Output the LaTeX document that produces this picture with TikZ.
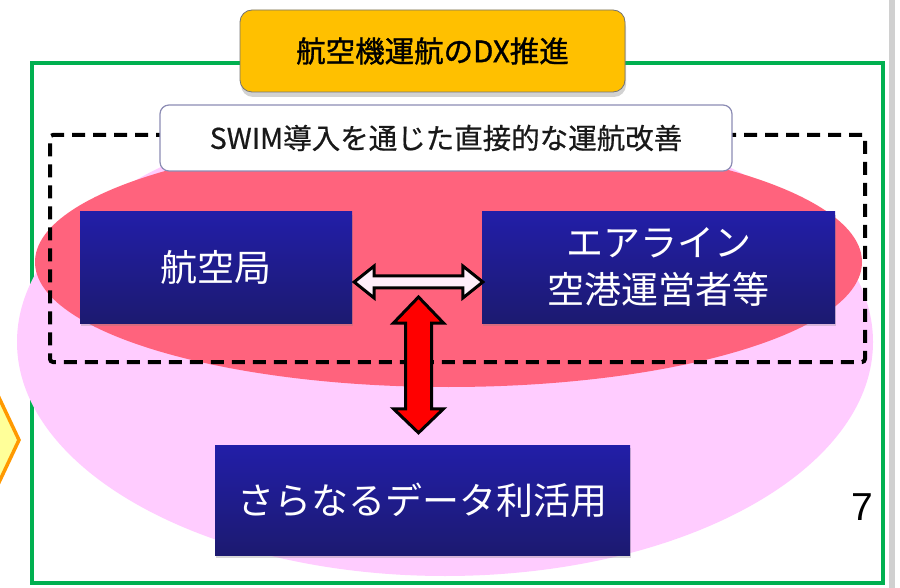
\documentclass[tikz,border=0pt]{standalone}
\usepackage{fontspec}
\setmainfont{Liberation Sans}
\newfontfamily\jp{Noto Sans CJK JP}
\newfontfamily\jpb{Noto Sans CJK JP}[FakeBold=1.2]
\newfontfamily\jpm{Noto Sans CJK JP}[FakeBold=0.6]
\usetikzlibrary{shadows,calc}
\definecolor{frameGreen}{RGB}{0,176,80}
\definecolor{pinkFill}{RGB}{255,204,255}
\definecolor{redFill}{RGB}{255,99,125}
\definecolor{titleOrange}{RGB}{255,192,0}
\definecolor{navyTop}{RGB}{34,30,168}
\definecolor{navyBot}{RGB}{28,26,112}
\definecolor{swimBorder}{RGB}{140,140,180}
\definecolor{hexOrange}{RGB}{255,153,0}
\definecolor{hexYellow}{RGB}{255,255,153}
\definecolor{edgeGray}{RGB}{208,208,208}
\definecolor{arrowWhite}{RGB}{255,238,250}
\begin{document}
\begin{tikzpicture}[x=1pt,y=-1pt,
  frame/.style={draw=frameGreen,line width=3.5pt,minimum width=851pt,minimum height=520pt,inner sep=0pt},
  titlebox/.style={draw=black!55,line width=0.8pt,fill=titleOrange,rounded corners=12pt,
    minimum width=385pt,minimum height=82pt,inner sep=0pt,
    font=\jpb\fontsize{29.5}{34}\selectfont,text=black,
    drop shadow={shadow xshift=1pt,shadow yshift=-5pt,opacity=0.35}},
  swimbox/.style={draw=swimBorder,line width=1.2pt,fill=white,rounded corners=9pt,
    minimum width=572pt,minimum height=66pt,inner sep=0pt,
    font=\jpm\fontsize{28.5}{32}\selectfont,text=black!90},
  bluebox/.style={top color=navyTop,bottom color=navyBot,draw=none,text=white,
    font=\jp\fontsize{37}{47}\selectfont,align=center,inner sep=0pt,
    drop shadow={shadow xshift=1pt,shadow yshift=-3pt,opacity=0.3}},
  dashbox/.style={draw=black,line width=4pt,dash pattern=on 13pt off 8pt,rounded corners=3pt,
    minimum width=815pt,minimum height=227pt,inner sep=0pt},
  whitearrow/.style={draw=black,line width=3pt,fill=arrowWhite,line join=miter},
  redarrow/.style={draw=black,line width=3pt,fill=red,line join=miter}
]
\useasboundingbox (0,0) rectangle (900,588);
\clip (0,0) rectangle (900,588);
\fill[white] (0,0) rectangle (900,588);

% outer green frame
\node[frame] (frame) at (457.5,323) {};

% ellipses
\fill[pinkFill] (445,342) ellipse [x radius=428, y radius=234];
\fill[redFill] (448.5,262) ellipse [x radius=413.5, y radius=125];

% dashed group
\node[dashbox] (group) at (457.5,248.5) {};

% labels
\node[swimbox] (swim) at (446,138) {SWIM導入を通じた直接的な運航改善};
\node[titlebox] (title) at (432.5,51) {航空機運航のDX推進};

% blue boxes
\node[bluebox,minimum width=272pt,minimum height=111pt] (jcab) at (216,267.5) {航空局};
\node[bluebox,minimum width=353pt,minimum height=111pt] (air) at (658.5,267.5) {エアライン\\空港運営者等};
\node[bluebox,minimum width=415pt,minimum height=110pt] (data) at (422.5,500) {さらなるデータ利活用};

% horizontal white double arrow
\coordinate (ha) at ($(jcab.east)+(2,14.5)$);
\coordinate (hb) at ($(air.west)+(1,14.5)$);
\draw[whitearrow] (ha) -- ($(ha)+(20,-16)$) -- ($(ha)+(20,-6)$) -- ($(hb)+(-20,-6)$)
  -- ($(hb)+(-20,-16)$) -- (hb) -- ($(hb)+(-20,16)$) -- ($(hb)+(-20,6)$)
  -- ($(ha)+(20,6)$) -- ($(ha)+(20,16)$) -- cycle;

% vertical red double arrow
\coordinate (va) at ($(ha)!0.5!(hb)+(0,15)$);
\coordinate (vb) at ($(data.north)+(-4,-12)$);
\draw[redarrow] (va) -- ($(va)+(25,26)$) -- ($(va)+(13,26)$) -- ($(vb)+(13,-24)$)
  -- ($(vb)+(25,-24)$) -- (vb) -- ($(vb)+(-25,-24)$) -- ($(vb)+(-13,-24)$)
  -- ($(va)+(-13,26)$) -- ($(va)+(-25,26)$) -- cycle;

% page number
\node[font=\fontsize{39}{42}\selectfont,text=black] (pg) at (862,507) {7};

% right gray edge
\fill[edgeGray] (889,0) rectangle (895,588);

% orange shape at left
\draw[draw=hexOrange,fill=hexYellow,line width=3.5pt] (-15,368) -- (19,440) -- (-15,512);
\end{tikzpicture}
\end{document}
